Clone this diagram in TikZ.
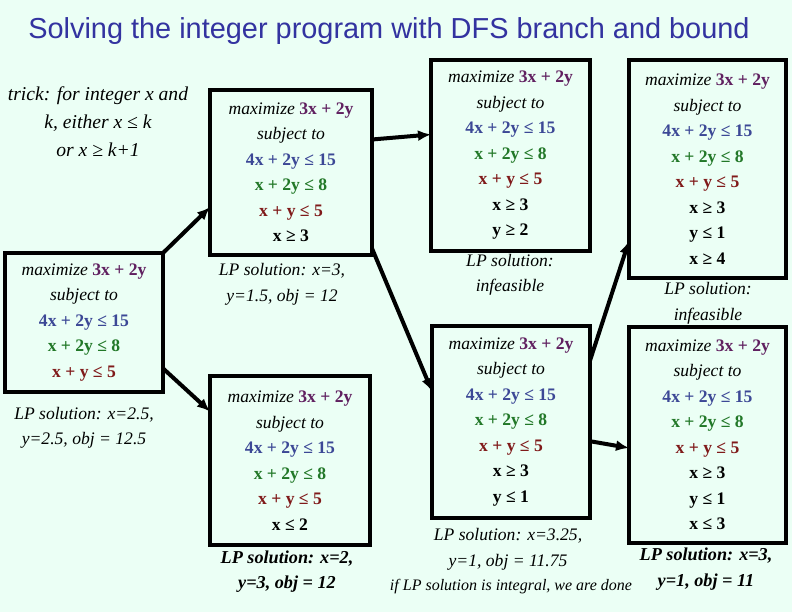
\documentclass[tikz,border=0pt]{standalone}
\usepackage{fontspec}
\setmainfont{Liberation Serif}
\newfontfamily\titlefont{Liberation Sans}
\usetikzlibrary{arrows.meta,calc}
\definecolor{bgc}{RGB}{235,255,245}
\definecolor{ctitle}{RGB}{51,51,160}
\definecolor{cobj}{RGB}{96,32,96}
\definecolor{cblue}{RGB}{60,72,150}
\definecolor{cgreen}{RGB}{34,120,40}
\definecolor{cred}{RGB}{128,26,26}
\newcommand{\lpmax}{\textit{maximize} \textcolor{cobj}{\textbf{3x + 2y}}}
\newcommand{\lpsub}{\textit{subject to}}
\newcommand{\lpca}{\textcolor{cblue}{\textbf{4x + 2y ≤ 15}}}
\newcommand{\lpcb}{\textcolor{cgreen}{\textbf{x + 2y ≤ 8}}}
\newcommand{\lpcc}{\textcolor{cred}{\textbf{x + y ≤ 5}}}
\tikzset{
  lpbox/.style={draw=black, line width=4pt, fill=bgc, inner sep=0pt, outer sep=0pt,
    align=center, font=\fontsize{17.6}{25.5}\selectfont},
  lplabel/.style={align=center, inner sep=0pt, font=\fontsize{17.6}{25.5}\selectfont\itshape},
  lpbold/.style={align=center, inner sep=0pt, font=\fontsize{18.2}{25.5}\selectfont\bfseries\itshape},
  branch/.style={line width=4pt, -{Latex[length=13pt,width=11pt]}}
}
\begin{document}
\begin{tikzpicture}[x=1pt,y=-1pt]
\fill[bgc] (0,0) rectangle (792,612);
\useasboundingbox (0,0) rectangle (792,612);
\node[text=ctitle, font=\titlefont\fontsize{28.9}{32}\selectfont, inner sep=0pt] (title) at (389,31) {Solving the integer program with DFS branch and bound};
\node[align=center, inner sep=0pt, font=\fontsize{19.6}{28}\selectfont\itshape] (trick) at (98,122)
  {trick: for integer x and\\ k, either x ≤ k\\ or x ≥ k+1};
% boxes
\node[lpbox, minimum width=158pt, minimum height=139pt] (A) at (84,322.5)
  {\lpmax\\\lpsub\\\lpca\\\lpcb\\\lpcc};
\node[lpbox, minimum width=162pt, minimum height=165pt] (B) at (291,172.5)
  {\lpmax\\\lpsub\\\lpca\\\lpcb\\\lpcc\\\textbf{x ≥ 3}};
\node[lpbox, minimum width=160pt, minimum height=169pt] (C) at (290,460.5)
  {\lpmax\\\lpsub\\\lpca\\\lpcb\\\lpcc\\\textbf{x ≤ 2}};
\node[lpbox, minimum width=159pt, minimum height=191pt] (D) at (510.5,155.5)
  {\lpmax\\\lpsub\\\lpca\\\lpcb\\\lpcc\\\textbf{x ≥ 3}\\\textbf{y ≥ 2}};
\node[lpbox, minimum width=158pt, minimum height=192pt] (E) at (511,422)
  {\lpmax\\\lpsub\\\lpca\\\lpcb\\\lpcc\\\textbf{x ≥ 3}\\\textbf{y ≤ 1}};
\node[lpbox, minimum width=157pt, minimum height=218pt] (F) at (707.5,169)
  {\lpmax\\\lpsub\\\lpca\\\lpcb\\\lpcc\\\textbf{x ≥ 3}\\\textbf{y ≤ 1}\\\textbf{x ≥ 4}};
\node[lpbox, minimum width=157pt, minimum height=216pt] (G) at (707.5,435)
  {\lpmax\\\lpsub\\\lpca\\\lpcb\\\lpcc\\\textbf{x ≥ 3}\\\textbf{y ≤ 1}\\\textbf{x ≤ 3}};
% LP solution labels
\node[lplabel] (solA) at (84,428) {LP solution: x=2.5,\\ y=2.5, obj = 12.5};
\node[lplabel] (solB) at (282,284.5) {LP solution: x=3,\\ y=1.5, obj = 12};
\node[lpbold] (solC) at (287,571.5) {LP solution: x=2,\\ y=3, obj = 12};
\node[lplabel] (solD) at (510,275) {LP solution:\\ infeasible};
\node[lplabel] (solE) at (508,549.5) {LP solution: x=3.25,\\ y=1, obj = 11.75};
\node[lplabel] (solF) at (708,303.5) {LP solution:\\ infeasible};
\node[lpbold] (solG) at (706,569) {LP solution: x=3,\\ y=1, obj = 11};
\node[inner sep=0pt, font=\fontsize{16}{18}\selectfont\itshape] (note) at (511,587) {if LP solution is integral, we are done};
% branches
\draw[branch] (A.north east) -- ($(B.south west)!0.29!(B.north west)$);
\draw[branch] ($(A.north east)!0.83!(A.south east)$) -- ($(C.north west)!0.21!(C.south west)$);
\draw[branch] ($(B.north east)!0.30!(B.south east)$) -- ($(D.north west)!0.39!(D.south west)$);
\draw[branch] ($(B.north east)!0.96!(B.south east)$) -- ($(E.north west)!0.34!(E.south west)$);
\draw[branch] ($(E.north east)!0.18!(E.south east)$) -- ($(F.north west)!0.83!(F.south west)$);
\draw[branch] ($(E.north east)!0.60!(E.south east)$) -- ($(G.north west)!0.56!(G.south west)$);
\end{tikzpicture}
\end{document}
